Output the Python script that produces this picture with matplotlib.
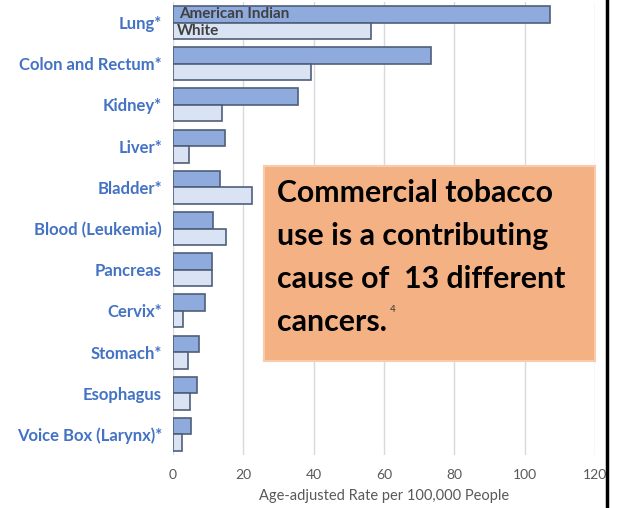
import matplotlib.pyplot as plt
import numpy as np
from matplotlib.patches import Rectangle
from matplotlib.lines import Line2D

plt.rcParams['font.family'] = ['Lato', 'DejaVu Sans']

cancers = ['Lung*', 'Colon and Rectum*', 'Kidney*', 'Liver*', 'Bladder*',
           'Blood (Leukemia)', 'Pancreas', 'Cervix*', 'Stomach*', 'Esophagus',
           'Voice Box (Larynx)*']
american_indian = [107.2, 73.4, 35.5, 14.8, 13.4, 11.4, 11.1, 9.1, 7.4, 6.8, 5.1]
white = [56.3, 39.2, 13.9, 4.5, 22.5, 15.1, 11.1, 2.8, 4.3, 4.8, 2.6]
xticks = [0, 20, 40, 60, 80, 100, 120]

fig = plt.figure(figsize=(6.18, 5.08), dpi=100)
ax = fig.add_axes([173 / 618, 1 - 455 / 508, 422 / 618, 453 / 508])

y = np.arange(len(cancers))
h = 0.4
ax.barh(y - h / 2, american_indian, height=h, color='#8FAADC',
        edgecolor='#4F5F7A', linewidth=1.2, zorder=3)
ax.barh(y + h / 2, white, height=h, color='#DAE3F3',
        edgecolor='#4F5F7A', linewidth=1.2, zorder=3)

ax.text(1.8, -h / 2, 'American Indian', va='center', ha='left', fontsize=11,
        color='#404040', fontweight='bold', zorder=4)
ax.text(1.2, h / 2, 'White', va='center', ha='left', fontsize=11,
        color='#404040', fontweight='bold', zorder=4)

ax.set_xlim(0, 120)
ax.set_ylim(len(cancers) - 0.5, -0.5)
ax.set_xticks(xticks)
ax.set_yticks(y)
ax.set_yticklabels(cancers, fontsize=12, fontweight='bold', color='#4472C4')
ax.tick_params(axis='y', length=0, pad=8)
ax.tick_params(axis='x', length=0, pad=10, labelsize=10, labelcolor='#595959')
ax.xaxis.grid(True, color='#D9D9D9', linewidth=1, zorder=0)
for s in ax.spines.values():
    s.set_visible(False)
ax.set_xlabel('Age-adjusted Rate per 100,000 People', fontsize=10.5,
              color='#595959', labelpad=6)

# orange callout box
box = Rectangle((264 / 618, 1 - 361 / 508), 331 / 618, 195 / 508,
                transform=fig.transFigure, facecolor='#F4B183',
                edgecolor='#F8CBAD', linewidth=1.5, zorder=5)
fig.add_artist(box)
lines = ['Commercial tobacco', 'use is a contributing',
         'cause of  13 different', 'cancers.']
texts = []
for i, t in enumerate(lines):
    texts.append(fig.text(277 / 618, 1 - (202 + 43 * i) / 508, t, fontsize=21.8,
                          fontweight='bold', color='black', va='baseline',
                          ha='left', zorder=6))
renderer = fig.canvas.get_renderer()
bb = texts[-1].get_window_extent(renderer)
fig.text(bb.x1 / 618 + 3 / 618, 1 - 312 / 508, '4', fontsize=7, color='#333333',
         va='baseline', ha='left', zorder=6)

# black border on the right
fig.add_artist(Line2D([607 / 618, 607 / 618], [0, 1], color='black',
                      linewidth=2.5, transform=fig.transFigure))

fig.savefig('out.png', dpi=100)
